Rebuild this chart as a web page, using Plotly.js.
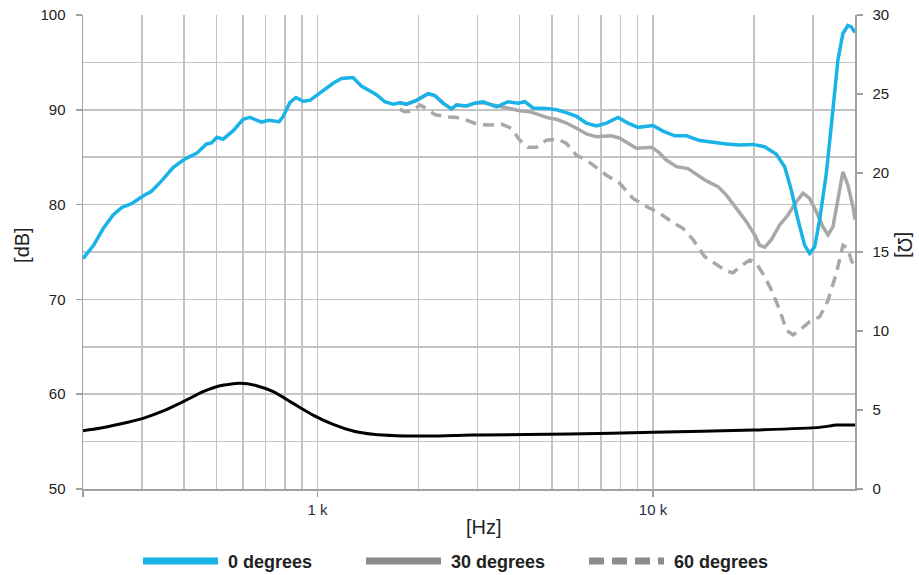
<!DOCTYPE html>
<html>
<head>
<meta charset="utf-8">
<script src="https://cdn.plot.ly/plotly-3.0.1.min.js"></script>
<style>html,body{margin:0;padding:0;background:#fff;}#chart{width:919px;height:575px;}</style>
</head>
<body>
<div id="chart"></div>
<script>
// 0 degrees on-axis response (Hz, dB)
var freq0 = [200,215,230,246,261,279,302,320,343,371,402,436,467,483,502,523,561,600,629,650,681,713,769,790,827,862,906,949,1016,1113,1179,1277,1352,1415,1499,1587,1680,1759,1842,1972,2136,2236,2367,2507,2595,2780,2943,3115,3415,3698,3961,4148,4391,4813,5155,5521,5913,6332,6782,7263,7865,8424,9022,10000,10710,11606,12576,13776,15095,16548,18131,19861,21525,23318,24686,25849,27048,28315,29302,30324,31382,32859,34376,35576,36818,38103,39006,40000];
var db0 = [74.3,75.7,77.5,78.9,79.7,80.1,80.9,81.4,82.5,83.9,84.8,85.4,86.4,86.5,87.1,86.9,87.8,89.0,89.2,89.0,88.7,88.9,88.75,89.3,90.75,91.3,90.9,91.0,91.8,92.8,93.3,93.4,92.5,92.1,91.6,90.85,90.6,90.75,90.6,91.0,91.7,91.5,90.7,90.1,90.5,90.4,90.7,90.85,90.3,90.85,90.7,90.85,90.2,90.15,90.0,89.7,89.3,88.6,88.3,88.6,89.2,88.6,88.15,88.35,87.75,87.25,87.25,86.75,86.55,86.4,86.3,86.35,86.1,85.3,84.0,81.5,78.4,75.7,74.85,75.55,78.4,83.3,90.0,95.25,98.05,98.9,98.75,98.15];

// 30 degrees off-axis response
var freq30 = [1759,1842,1972,2136,2236,2367,2507,2595,2780,2943,3115,3336,3658,4008,4291,4596,4923,5155,5521,5913,6332,6782,7516,7960,8923,9890,10349,10962,11742,12714,13618,14424,15620,16548,17725,18985,20091,20797,21525,22534,23851,25250,26744,27990,29302,30685,32110,33231,34376,35576,36818,38103,39430,40000];
var db30 = [90.75,90.6,91.0,91.7,91.5,90.7,90.1,90.5,90.4,90.7,90.75,90.5,90.15,89.9,89.8,89.45,89.1,89.0,88.6,88.05,87.45,87.15,87.25,87.0,85.95,86.05,85.6,84.7,84.0,83.8,83.1,82.5,81.9,81.0,79.6,78.2,76.8,75.7,75.5,76.3,77.85,78.9,80.3,81.2,80.65,79.25,77.65,76.8,77.65,80.5,83.45,82.05,79.8,78.4];

// 60 degrees off-axis response
var freq60 = [1759,1820,1906,2018,2114,2236,2423,2595,2780,3010,3262,3534,3785,4008,4242,4494,4813,5212,5521,5913,6332,6859,7263,7960,8718,9556,10471,11470,12285,13158,14256,15270,16548,17318,18131,19420,20328,21525,22534,23851,24978,26147,27361,29302,31382,33231,35196,36818,38103,39006,40000];
var db60 = [90.05,89.8,89.85,90.5,90.15,89.5,89.25,89.2,88.9,88.45,88.4,88.5,88.05,86.8,86.05,86.05,86.8,86.9,86.45,85.2,84.7,83.8,83.1,82.25,80.65,79.8,79.1,78.1,77.5,76.3,74.5,73.8,73.0,72.8,73.45,74.15,73.8,72.4,71.0,68.9,66.75,66.25,66.75,67.65,68.15,69.9,72.75,75.7,75.4,74.1,73.45];

// Impedance (Hz, ohm)
var freqZ = [200,224,258,302,347,398,456,512,587,658,738,846,970,1113,1277,1464,1720,2161,2716,3045,5646,10000,19861,31382,35196,39430,40000];
var ohmZ = [3.69,3.84,4.11,4.47,4.94,5.53,6.16,6.54,6.69,6.54,6.16,5.42,4.68,4.09,3.67,3.46,3.37,3.35,3.40,3.42,3.48,3.59,3.73,3.9,4.05,4.05,4.05];

var seriesNames = ['0 degrees','30 degrees','60 degrees'];
var xTickVals = [200,1000,10000];
var xTickText = ['','1 k','10 k'];
var xGridVals = [200,300,400,500,600,700,800,900,1000,2000,3000,4000,5000,6000,7000,8000,9000,10000,20000,30000,40000];

var blue = '#19b3e8';
var grayLine = '#a8a8a8';
var grayLegend = '#8c8c8c';
var pad = '\u00a0';

var traces = [
  {x: freqZ, y: ohmZ, yaxis: 'y2', mode: 'lines', line: {color: '#000', width: 3, shape: 'spline', smoothing: 0.6}, showlegend: false, hoverinfo: 'skip'},
  {x: freq60, y: db60, mode: 'lines', line: {color: grayLine, width: 3.5, dash: '11px,7px'}, showlegend: false},
  {x: freq30, y: db30, mode: 'lines', line: {color: grayLine, width: 3.5}, showlegend: false},
  {x: freq0, y: db0, mode: 'lines', line: {color: blue, width: 3.5}, showlegend: false},
  // legend entries
  {x: [null], y: [null], mode: 'lines', name: pad + seriesNames[0], line: {color: blue, width: 7}, legendrank: 1},
  {x: [null], y: [null], mode: 'lines', name: pad + seriesNames[1], line: {color: grayLegend, width: 7}, legendrank: 2},
  {x: [null], y: [null], mode: 'lines', name: pad + seriesNames[2], line: {color: grayLegend, width: 7, dash: '15px,8px'}, legendrank: 3}
];

var gridColor = '#c4c4c4';
var axisColor = '#a0a0a0';
var fontFam = 'Liberation Sans, Arial, sans-serif';

var layout = {
  width: 919, height: 575,
  margin: {l: 83, r: 64, t: 15, b: 86},
  paper_bgcolor: '#fff', plot_bgcolor: '#fff',
  font: {family: fontFam, size: 15, color: '#222'},
  showlegend: true,
  xaxis: {
    type: 'log', range: [Math.log10(200), Math.log10(40000)],
    tickmode: 'array', tickvals: xTickVals, ticktext: xTickText,
    ticks: 'outside', ticklen: 6, tickcolor: axisColor, tickwidth: 1.5,
    tickfont: {size: 15, color: '#1e2d44'},
    showgrid: true, gridcolor: gridColor, gridwidth: 1.5,
    minor: {tickmode: 'array', tickvals: xGridVals, showgrid: true, gridcolor: gridColor, gridwidth: 1.5, ticks: ''},
    showline: true, linecolor: axisColor, linewidth: 1.5,
    zeroline: false
  },
  yaxis: {
    range: [50, 100], dtick: 10, tick0: 50,
    ticks: 'outside', ticklen: 6, tickcolor: axisColor, tickwidth: 1.5,
    ticklabelstandoff: 7,
    tickfont: {size: 15, color: '#222'},
    showgrid: true, gridcolor: gridColor, gridwidth: 1.5,
    minor: {dtick: 5, showgrid: true, gridcolor: gridColor, gridwidth: 1.5, ticks: ''},
    showline: true, linecolor: axisColor, linewidth: 1.5,
    zeroline: false
  },
  yaxis2: {
    range: [0, 30], dtick: 5, tick0: 0,
    overlaying: 'y', side: 'right',
    ticks: 'outside', ticklen: 6, tickcolor: axisColor, tickwidth: 1.5,
    ticklabelstandoff: 7,
    tickfont: {size: 15, color: '#222'},
    showgrid: false, showline: true, linecolor: axisColor, linewidth: 1.5,
    zeroline: false
  },
  legend: {
    orientation: 'h', xref: 'container', yref: 'container',
    x: 138 / 919, xanchor: 'left', y: 0.024, yanchor: 'middle',
    itemwidth: 75,
    entrywidth: 133, entrywidthmode: 'pixels',
    font: {size: 18, color: '#222', weight: 'bold', family: fontFam},
    bgcolor: 'rgba(0,0,0,0)'
  },
  annotations: [
    {text: '[dB]', xref: 'paper', yref: 'paper', x: -0.079, y: 0.515, showarrow: false, textangle: -90, font: {size: 20, color: '#222'}, xanchor: 'center', yanchor: 'middle'},
    {text: '[Hz]', xref: 'paper', yref: 'paper', x: 0.519, y: -0.080, showarrow: false, font: {size: 20, color: '#222'}, xanchor: 'center', yanchor: 'middle'},
    {text: '[Ω]', xref: 'paper', yref: 'paper', x: 1.0648, y: 0.515, showarrow: false, textangle: 90, font: {size: 20, color: '#222'}, xanchor: 'center', yanchor: 'middle'}
  ]
};

Plotly.newPlot('chart', traces, layout, {staticPlot: true, displayModeBar: false});
</script>
</body>
</html>
